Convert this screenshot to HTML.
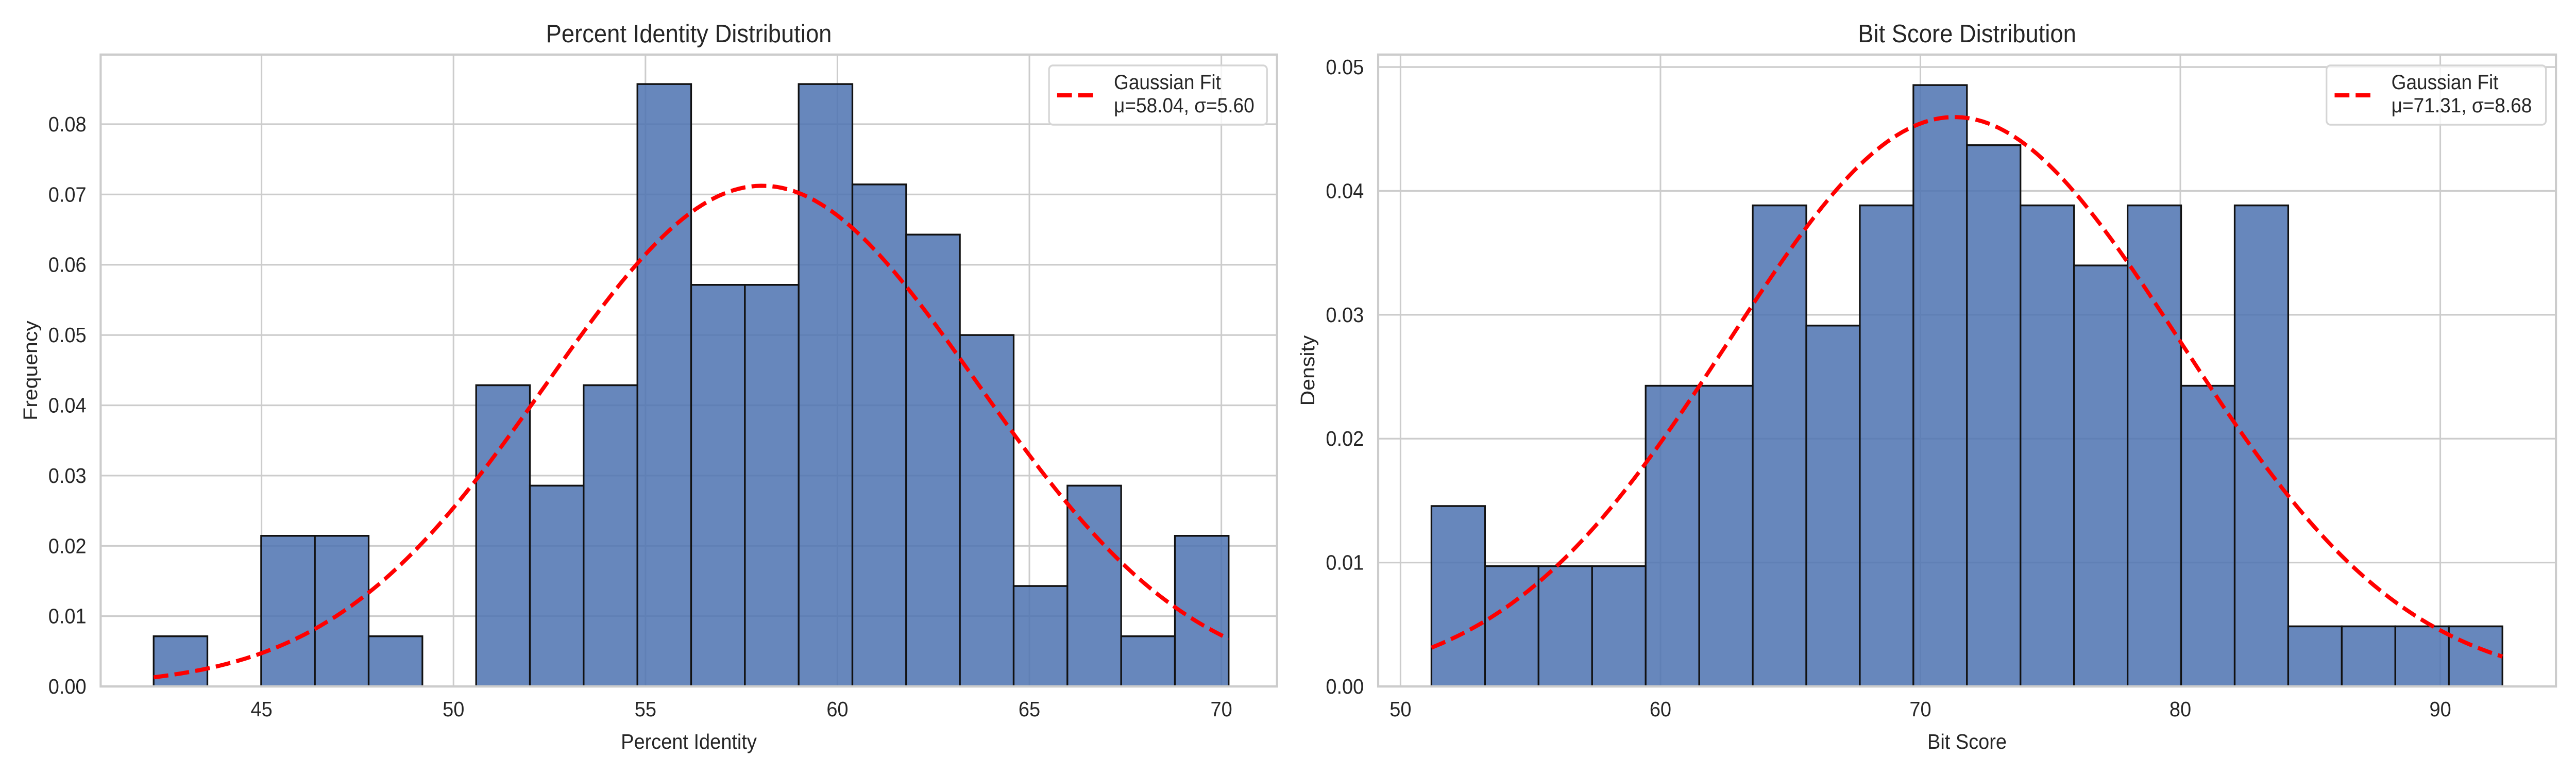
<!DOCTYPE html>
<html><head><meta charset="utf-8">
<style>
html,body{margin:0;padding:0;background:#fff;width:100%;height:100%;overflow:hidden;}
svg{display:block;width:100vw;height:100vh;}
text{font-family:"Liberation Sans",Arial,sans-serif;fill:#262626;}
</style></head>
<body>
<svg id="chart" viewBox="0 0 5400 1500" preserveAspectRatio="none" xmlns="http://www.w3.org/2000/svg"></svg>
<script>
// ---- Panel 1 data: Percent Identity ----
const piBinStart = 42.19;
const piBinWidth = 1.4;
const piDensity = [0.00714,0,0.02143,0.02143,0.00714,0,0.04286,0.02857,0.04286,0.08571,0.05714,0.05714,0.08571,0.07143,0.06429,0.05,0.01429,0.02857,0.00714,0.02143];
const piMu = 58.04, piSigma = 5.60;
const piXTicks = [45,50,55,60,65,70];
const piYTicks = [0,0.01,0.02,0.03,0.04,0.05,0.06,0.07,0.08];
const piYTickLabels = ["0.00","0.01","0.02","0.03","0.04","0.05","0.06","0.07","0.08"];

// ---- Panel 2 data: Bit Score ----
const bsBinStart = 51.19;
const bsBinWidth = 2.06;
const bsDensity = [0.01456,0.00971,0.00971,0.00971,0.02427,0.02427,0.03883,0.02913,0.03883,0.04854,0.04369,0.03883,0.03398,0.03883,0.02427,0.03883,0.00485,0.00485,0.00485,0.00485];
const bsMu = 71.31, bsSigma = 8.68;
const bsXTicks = [50,60,70,80,90];
const bsYTicks = [0,0.01,0.02,0.03,0.04,0.05];
const bsYTickLabels = ["0.00","0.01","0.02","0.03","0.04","0.05"];

const NS = "http://www.w3.org/2000/svg";
const svg = document.getElementById('chart');
function mk(tag, attrs, parent){
  const e = document.createElementNS(NS, tag);
  for (const k in attrs) e.setAttribute(k, attrs[k]);
  (parent||svg).appendChild(e);
  return e;
}

function panel(cfg){
  const g = mk('g', {});
  
  
  const L=cfg.left,R=cfg.right,T=cfg.top,B=cfg.bottom;
  const sx = v => L + (v-cfg.xmin)/(cfg.xmax-cfg.xmin)*(R-L);
  const sy = v => B - (v-cfg.ymin)/(cfg.ymax-cfg.ymin)*(B-T);

  cfg.xTicks.forEach(t=>{
    const l = mk('line',{x1:sx(t),x2:sx(t),y1:T,y2:B,stroke:'#cccccc','stroke-width':3.3},g);
    
    
    const tx = mk('text',{x:sx(t),y:1390,'font-size':41,'text-anchor':'middle'},g);
    tx.textContent = String(t);
    
    
  });
  cfg.yTicks.forEach((t,i)=>{
    const l = mk('line',{x1:L,x2:R,y1:sy(t),y2:sy(t),stroke:'#cccccc','stroke-width':3.3},g);
    
    
    const tx = mk('text',{x:L-30,y:sy(t)+14,'font-size':41,'text-anchor':'end'},g);
    tx.textContent = cfg.yLabels[i];
    
    
  });

  cfg.density.forEach((d,i)=>{
    const x0 = cfg.binStart + i*cfg.binWidth;
    const x1 = x0 + cfg.binWidth;
    if (d<=0) return;
    const r = mk('rect',{x:sx(x0),y:sy(d),width:sx(x1)-sx(x0),height:sy(0)-sy(d),fill:'#4c72b0','fill-opacity':0.85,stroke:'#111','stroke-width':3.5},g);
    
    
  });

  const x0 = cfg.binStart, x1 = cfg.binStart + cfg.density.length*cfg.binWidth;
  let pts=[];
  for(let k=0;k<=200;k++){
    const x = x0 + (x1-x0)*k/200;
    const y = Math.exp(-0.5*((x-cfg.mu)/cfg.sigma)**2)/(cfg.sigma*Math.sqrt(2*Math.PI));
    pts.push(sx(x).toFixed(1)+','+sy(y).toFixed(1));
  }
  const pl = mk('polyline',{points:pts.join(' '),fill:'none',stroke:'#ff0000','stroke-width':8,'stroke-dasharray':'31 13'},g);
  
  

  const sp = mk('rect',{x:L,y:T,width:R-L,height:B-T,fill:'none',stroke:'#cccccc','stroke-width':4.5},g);
  
  

  const ti = mk('text',{x:(L+R)/2,y:82,'font-size':49,'text-anchor':'middle'},g);
  ti.textContent = cfg.title;
  
  
  const xl = mk('text',{x:(L+R)/2,y:1453,'font-size':41,'text-anchor':'middle'},g);
  xl.textContent = cfg.xLabel;
  
  
  const yl = mk('text',{x:0,y:0,'font-size':41,'text-anchor':'middle',transform:`translate(${cfg.yLabelX},${(T+B)/2}) rotate(-90)`},g);
  yl.textContent = cfg.yLabel;
  
  

  const lg = mk('g',{},g);
  
  
  mk('rect',{x:cfg.legX,y:127,width:R-21-cfg.legX,height:115,rx:8,fill:'#ffffff','fill-opacity':0.8,stroke:'#d5d5d5','stroke-width':3.5},lg);
  const ll = mk('line',{x1:cfg.legX+17,x2:cfg.legX+93,y1:185,y2:185,stroke:'#ff0000','stroke-width':8,'stroke-dasharray':'31 13'},lg);
  
  
  const t1 = mk('text',{x:cfg.legX+136,y:173,'font-size':40},lg);
  t1.textContent = 'Gaussian Fit';
  
  
  const t2 = mk('text',{x:cfg.legX+136,y:218,'font-size':40},lg);
  t2.textContent = 'μ=' + cfg.mu.toFixed(2) + ', σ=' + cfg.sigma.toFixed(2);
  
  
}

panel({name:'percent-identity-panel',left:211,right:2677,top:106,bottom:1332,
  xmin:40.81,xmax:71.45,ymin:0,ymax:0.0899,
  xTicks:piXTicks,yTicks:piYTicks,yLabels:piYTickLabels,
  density:piDensity,binStart:piBinStart,binWidth:piBinWidth,mu:piMu,sigma:piSigma,
  title:'Percent Identity Distribution',xLabel:'Percent Identity',yLabel:'Frequency',yLabelX:78,legX:2199});
panel({name:'bit-score-panel',left:2889,right:5358,top:106,bottom:1332,
  xmin:49.14,xmax:94.45,ymin:0,ymax:0.051,
  xTicks:bsXTicks,yTicks:bsYTicks,yLabels:bsYTickLabels,
  density:bsDensity,binStart:bsBinStart,binWidth:bsBinWidth,mu:bsMu,sigma:bsSigma,
  title:'Bit Score Distribution',xLabel:'Bit Score',yLabel:'Density',yLabelX:2755,legX:4877});
</script>
</body></html>
